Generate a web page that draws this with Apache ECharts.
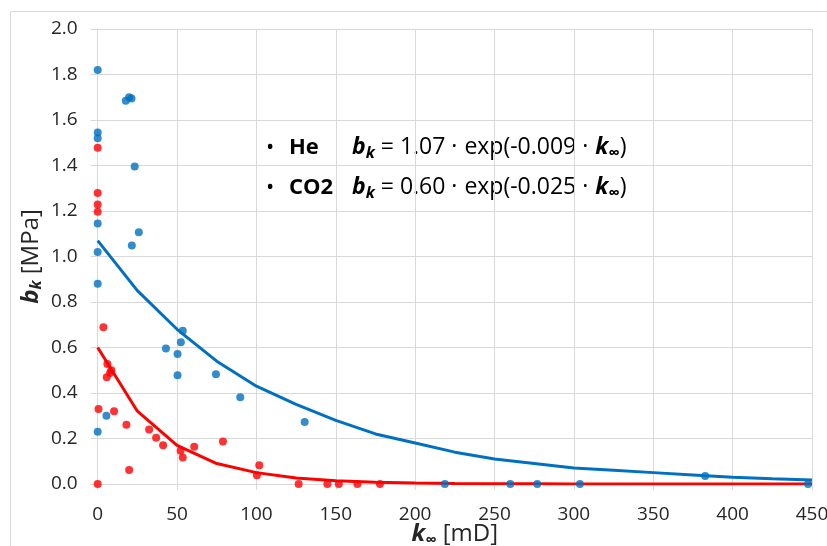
<!DOCTYPE html>
<html>
<head>
<meta charset="utf-8">
<script src="https://cdn.jsdelivr.net/npm/echarts@6/dist/echarts.min.js"></script>
<style>html,body{margin:0;padding:0;background:#fff;}#c{width:827px;height:546px;}</style>
</head>
<body>
<div id="c"></div>
<script>
// He measurements
const heK = [0,0,0,0,0,0,0,17.7,19.8,21.3,23.3,25.9,21.5,5.5,43.0,53.6,52.4,50.3,50.3,74.5,89.8,130.4,218.7,259.9,276.9,303.8,382.7,447.5];
const heB = [1.82,1.545,1.52,1.145,1.02,0.88,0.23,1.685,1.70,1.695,1.396,1.107,1.048,0.30,0.596,0.674,0.623,0.571,0.478,0.482,0.381,0.273,0,0,0,0,0.035,0];
// CO2 measurements
const coK = [0,0,0,0,3.6,6.1,5.7,7.8,8.6,0.5,10.3,18.1,19.8,0,32.4,36.8,41.2,52.2,53.6,60.8,78.9,101.8,100.3,126.6,144.7,151.9,163.6,177.8];
const coB = [1.478,1.279,1.229,1.197,0.689,0.528,0.469,0.488,0.50,0.33,0.32,0.26,0.061,0,0.24,0.203,0.17,0.146,0.117,0.164,0.187,0.082,0.038,0,0,0,0,0];
// fit curves
const fitK = [0,25,50,75,100,125,150,175,200,225,250,275,300,325,350,375,400,425,450];
const heFit = [1.07,0.85,0.68,0.54,0.43,0.35,0.28,0.22,0.18,0.14,0.11,0.09,0.07,0.06,0.05,0.04,0.03,0.023,0.018];
const coFit = [0.60,0.32,0.17,0.09,0.05,0.026,0.014,0.008,0.004,0.002,0.001,0.001,0,0,0,0,0,0,0];
// ticks
const xTicks = {min:0, max:450, interval:50};
const yTicks = {min:0, max:2, interval:0.2};

const BLUE = '#0070C0', RED = '#FF0000', GRID = '#D9D9D9', TXT = '#262626';
const FONT = 'Open Sans';
const zip = (a,b) => a.map((v,i)=>[v,b[i]]);

const chart = echarts.init(document.getElementById('c'), null, {renderer:'canvas'});
const eqRich = (col) => ({
  bi:{fontFamily:FONT, fontSize:23, fontWeight:'bold', fontStyle:'italic', color:col},
  sub:{fontFamily:FONT, fontSize:16, fontWeight:'bold', fontStyle:'italic', color:col, padding:[11,0,0,0]},
  t:{fontFamily:FONT, fontSize:23, color:col},
  d:{fontFamily:FONT, fontSize:23, color:col, padding:[0,7,0,6]},
  nm:{fontFamily:FONT, fontSize:22, fontWeight:'bold', color:col},
  dot:{fontFamily:FONT, fontSize:22, color:col}
});
const titleRich = {
  bi:{fontFamily:FONT, fontSize:24, fontWeight:'bold', fontStyle:'italic', color:TXT},
  sub:{fontFamily:FONT, fontSize:16, fontWeight:'bold', fontStyle:'italic', color:TXT, padding:[11,0,0,0]},
  t:{fontFamily:FONT, fontSize:24, color:TXT}
};
chart.setOption({
  animation:false,
  backgroundColor:'#fff',
  grid:{left:97.7, right:15, top:29, bottom:62, containLabel:false, outerBoundsMode:'none'},
  xAxis:{
    type:'value', min:xTicks.min, max:xTicks.max, interval:xTicks.interval,
    axisLine:{show:true, lineStyle:{color:GRID, width:1}},
    axisTick:{show:true, inside:false, length:6, lineStyle:{color:GRID}},
    splitLine:{show:true, lineStyle:{color:GRID, width:1}},
    axisLabel:{fontFamily:FONT, fontSize:19, color:TXT, margin:21},
    name:'{bi|k}{sub|∞}{t| [mD]}', nameLocation:'middle', nameGap:37, nameMoveOverlap:false,
    nameTextStyle:{rich:titleRich}
  },
  yAxis:{
    type:'value', min:yTicks.min, max:yTicks.max, interval:yTicks.interval,
    axisLine:{show:true, lineStyle:{color:GRID, width:1}},
    axisTick:{show:true, inside:false, length:7, lineStyle:{color:GRID}},
    splitLine:{show:true, lineStyle:{color:GRID, width:1}},
    axisLabel:{fontFamily:FONT, fontSize:19, color:TXT, margin:20, formatter:v=>v.toFixed(1)},
    name:'{bi|b}{sub|k}{t| [MPa]}', nameLocation:'middle', nameGap:53, nameRotate:90, nameMoveOverlap:false,
    nameTextStyle:{rich:titleRich}
  },
  graphic:[
    {type:'rect', left:8, top:9, shape:{width:830, height:560}, style:{fill:'none', stroke:'#D9D9D9', lineWidth:1}, silent:true, z:-1},
    {type:'text', left:266, top:137, style:{text:'{dot|•}', rich:eqRich(BLUE)}},
    {type:'text', left:289, top:137, style:{text:'{nm|He}', rich:eqRich(BLUE)}},
    {type:'text', left:352, top:136, style:{text:'{bi|b}{sub|k}{t| = 1.07}{d|·}{t|exp(-0.009}{d|·}{bi|k}{sub|∞}{t|)}', rich:eqRich(BLUE)}},
    {type:'text', left:266, top:177, style:{text:'{dot|•}', rich:eqRich(RED)}},
    {type:'text', left:289, top:177, style:{text:'{nm|CO2}', rich:eqRich(RED)}},
    {type:'text', left:352, top:176, style:{text:'{bi|b}{sub|k}{t| = 0.60}{d|·}{t|exp(-0.025}{d|·}{bi|k}{sub|∞}{t|)}', rich:eqRich(RED)}}
  ],
  series:[
    {type:'line', data:zip(fitK, heFit), symbol:'none', lineStyle:{color:BLUE, width:3}, z:2},
    {type:'line', data:zip(fitK, coFit), symbol:'none', lineStyle:{color:RED, width:3}, z:2},
    {type:'scatter', data:zip(heK, heB), symbolSize:8, itemStyle:{color:BLUE}, z:3},
    {type:'scatter', data:zip(coK, coB), symbolSize:8, itemStyle:{color:RED}, z:3}
  ]
});
</script>
</body>
</html>
